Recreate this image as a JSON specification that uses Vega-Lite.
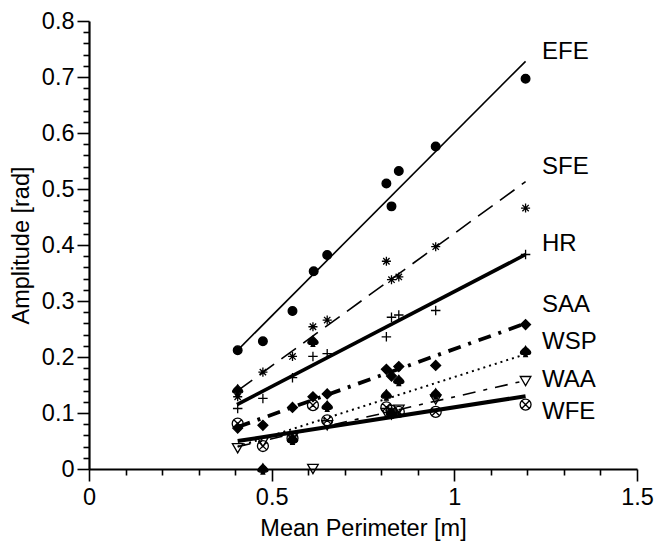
{
  "$schema": "https://vega.github.io/schema/vega-lite/v6.json",
  "width": 548,
  "height": 448,
  "autosize": "none",
  "padding": {"left": 89, "top": 21, "right": 20, "bottom": 75},
  "background": "white",
  "config": {
    "view": {"stroke": null},
    "font": "Liberation Sans",
    "axis": {
      "grid": false,
      "domainColor": "black",
      "domainWidth": 2.2,
      "tickColor": "black",
      "tickWidth": 1.6,
      "labelColor": "black",
      "titleColor": "black",
      "labelFont": "Liberation Sans",
      "titleFont": "Liberation Sans",
      "labelFontSize": 23.5,
      "titleFontSize": 23.5,
      "titleFontWeight": "normal",
      "labelFlush": false,
      "labelOverlap": false
    }
  },
  "datasets": {
    "pts": [
      {"series": "EFE", "x": 0.407, "y": 0.212}, {"series": "EFE", "x": 0.476, "y": 0.228}, {"series": "EFE", "x": 0.557, "y": 0.282}, {"series": "EFE", "x": 0.615, "y": 0.353}, {"series": "EFE", "x": 0.652, "y": 0.382}, {"series": "EFE", "x": 0.814, "y": 0.51}, {"series": "EFE", "x": 0.828, "y": 0.469}, {"series": "EFE", "x": 0.848, "y": 0.532}, {"series": "EFE", "x": 0.949, "y": 0.576}, {"series": "EFE", "x": 1.195, "y": 0.697},
      {"series": "SFE", "x": 0.407, "y": 0.129}, {"series": "SFE", "x": 0.476, "y": 0.173}, {"series": "SFE", "x": 0.557, "y": 0.201}, {"series": "SFE", "x": 0.613, "y": 0.254}, {"series": "SFE", "x": 0.652, "y": 0.266}, {"series": "SFE", "x": 0.814, "y": 0.371}, {"series": "SFE", "x": 0.828, "y": 0.338}, {"series": "SFE", "x": 0.848, "y": 0.343}, {"series": "SFE", "x": 0.949, "y": 0.397}, {"series": "SFE", "x": 1.195, "y": 0.466},
      {"series": "HR", "x": 0.407, "y": 0.108}, {"series": "HR", "x": 0.476, "y": 0.126}, {"series": "HR", "x": 0.557, "y": 0.163}, {"series": "HR", "x": 0.613, "y": 0.201}, {"series": "HR", "x": 0.652, "y": 0.206}, {"series": "HR", "x": 0.814, "y": 0.236}, {"series": "HR", "x": 0.828, "y": 0.271}, {"series": "HR", "x": 0.848, "y": 0.275}, {"series": "HR", "x": 0.949, "y": 0.283}, {"series": "HR", "x": 1.195, "y": 0.383},
      {"series": "SAA", "x": 0.407, "y": 0.073}, {"series": "SAA", "x": 0.476, "y": 0.078}, {"series": "SAA", "x": 0.557, "y": 0.11}, {"series": "SAA", "x": 0.613, "y": 0.129}, {"series": "SAA", "x": 0.652, "y": 0.134}, {"series": "SAA", "x": 0.814, "y": 0.178}, {"series": "SAA", "x": 0.828, "y": 0.166}, {"series": "SAA", "x": 0.848, "y": 0.183}, {"series": "SAA", "x": 0.949, "y": 0.185}, {"series": "SAA", "x": 1.195, "y": 0.258},
      {"series": "WSP", "x": 0.407, "y": 0.141}, {"series": "WSP", "x": 0.476, "y": 0.0}, {"series": "WSP", "x": 0.557, "y": 0.053}, {"series": "WSP", "x": 0.613, "y": 0.228}, {"series": "WSP", "x": 0.652, "y": 0.112}, {"series": "WSP", "x": 0.814, "y": 0.132}, {"series": "WSP", "x": 0.828, "y": 0.1}, {"series": "WSP", "x": 0.848, "y": 0.158}, {"series": "WSP", "x": 0.949, "y": 0.134}, {"series": "WSP", "x": 1.195, "y": 0.21},
      {"series": "WAA", "x": 0.407, "y": 0.037}, {"series": "WAA", "x": 0.476, "y": 0.048}, {"series": "WAA", "x": 0.557, "y": 0.056}, {"series": "WAA", "x": 0.613, "y": 0.0}, {"series": "WAA", "x": 0.652, "y": 0.078}, {"series": "WAA", "x": 0.814, "y": 0.1}, {"series": "WAA", "x": 0.828, "y": 0.097}, {"series": "WAA", "x": 0.848, "y": 0.106}, {"series": "WAA", "x": 0.949, "y": 0.124}, {"series": "WAA", "x": 1.195, "y": 0.157},
      {"series": "WFE", "x": 0.407, "y": 0.081}, {"series": "WFE", "x": 0.476, "y": 0.041}, {"series": "WFE", "x": 0.557, "y": 0.055}, {"series": "WFE", "x": 0.613, "y": 0.114}, {"series": "WFE", "x": 0.652, "y": 0.087}, {"series": "WFE", "x": 0.814, "y": 0.11}, {"series": "WFE", "x": 0.828, "y": 0.104}, {"series": "WFE", "x": 0.848, "y": 0.102}, {"series": "WFE", "x": 0.949, "y": 0.102}, {"series": "WFE", "x": 1.195, "y": 0.115}
    ],
    "fits": [
      {"series": "EFE", "x": 0.405, "y": 0.211}, {"series": "EFE", "x": 1.195, "y": 0.728},
      {"series": "SFE", "x": 0.407, "y": 0.14}, {"series": "SFE", "x": 1.195, "y": 0.513},
      {"series": "HR", "x": 0.405, "y": 0.115}, {"series": "HR", "x": 1.195, "y": 0.383},
      {"series": "SAA", "x": 0.407, "y": 0.075}, {"series": "SAA", "x": 1.195, "y": 0.26},
      {"series": "WSP", "x": 0.407, "y": 0.04}, {"series": "WSP", "x": 1.195, "y": 0.205},
      {"series": "WAA", "x": 0.407, "y": 0.04}, {"series": "WAA", "x": 1.195, "y": 0.158},
      {"series": "WFE", "x": 0.407, "y": 0.05}, {"series": "WFE", "x": 1.195, "y": 0.13}
    ],
    "labels": [
      {"series": "EFE", "x": 1.24, "y": 0.744},
      {"series": "SFE", "x": 1.24, "y": 0.539},
      {"series": "HR", "x": 1.24, "y": 0.402},
      {"series": "SAA", "x": 1.24, "y": 0.292},
      {"series": "WSP", "x": 1.24, "y": 0.227},
      {"series": "WAA", "x": 1.24, "y": 0.159},
      {"series": "WFE", "x": 1.24, "y": 0.102}
    ]
  },
  "encoding": {
    "x": {
      "field": "x", "type": "quantitative",
      "scale": {"domain": [0, 1.5], "nice": false, "zero": false},
      "axis": {
        "title": "Mean Perimeter [m]",
        "values": [0, 0.1, 0.2, 0.3, 0.4, 0.5, 0.6, 0.7, 0.8, 0.9, 1, 1.1, 1.2, 1.3, 1.4, 1.5],
        "labelExpr": "abs(datum.value*2-round(datum.value*2))<0.001 ? format(datum.value, '.1~f') : ''",
        "tickSize": {"condition": {"test": "abs(datum.value*2-round(datum.value*2))<0.001", "value": 12}, "value": 6},
        "labelPadding": 4,
        "titlePadding": 8
      }
    },
    "y": {
      "field": "y", "type": "quantitative",
      "scale": {"domain": [0, 0.8], "nice": false, "zero": false},
      "axis": {
        "title": "Amplitude [rad]",
        "values": [0, 0.02, 0.04, 0.06, 0.08, 0.1, 0.12, 0.14, 0.16, 0.18, 0.2, 0.22, 0.24, 0.26, 0.28, 0.3, 0.32, 0.34, 0.36, 0.38, 0.4, 0.42, 0.44, 0.46, 0.48, 0.5, 0.52, 0.54, 0.56, 0.58, 0.6, 0.62, 0.64, 0.66, 0.68, 0.7, 0.72, 0.74, 0.76, 0.78, 0.8],
        "labelExpr": "abs(datum.value*10-round(datum.value*10))<0.001 ? format(datum.value, '.1~f') : ''",
        "tickSize": {"condition": {"test": "abs(datum.value*10-round(datum.value*10))<0.001", "value": 12}, "value": 6},
        "labelPadding": 3,
        "titlePadding": 8
      }
    }
  },
  "layer": [
    {
      "data": {"name": "fits"},
      "transform": [{"filter": "datum.series == 'EFE'"}],
      "mark": {"type": "line", "color": "black", "strokeWidth": 1.6},
      "encoding": {}
    },
    {
      "data": {"name": "fits"},
      "transform": [{"filter": "datum.series == 'SFE'"}],
      "mark": {"type": "line", "color": "black", "strokeWidth": 1.6, "strokeDash": [18, 9], "strokeCap": "butt"},
      "encoding": {}
    },
    {
      "data": {"name": "fits"},
      "transform": [{"filter": "datum.series == 'HR'"}],
      "mark": {"type": "line", "color": "black", "strokeWidth": 3.6},
      "encoding": {}
    },
    {
      "data": {"name": "fits"},
      "transform": [{"filter": "datum.series == 'SAA'"}],
      "mark": {"type": "line", "color": "black", "strokeWidth": 3.8, "strokeDash": [13, 8, 3, 8], "strokeCap": "butt"},
      "encoding": {}
    },
    {
      "data": {"name": "fits"},
      "transform": [{"filter": "datum.series == 'WSP'"}],
      "mark": {"type": "line", "color": "black", "strokeWidth": 2, "strokeDash": [2, 4], "strokeCap": "butt"},
      "encoding": {}
    },
    {
      "data": {"name": "fits"},
      "transform": [{"filter": "datum.series == 'WAA'"}],
      "mark": {"type": "line", "color": "black", "strokeWidth": 1.6, "strokeDash": [13, 8, 4, 8], "strokeCap": "butt"},
      "encoding": {}
    },
    {
      "data": {"name": "fits"},
      "transform": [{"filter": "datum.series == 'WFE'"}],
      "mark": {"type": "line", "color": "black", "strokeWidth": 4},
      "encoding": {}
    },
    {
      "data": {"name": "pts"},
      "mark": {"type": "point", "stroke": "black", "strokeWidth": 1.3, "opacity": 1},
      "encoding": {
        "shape": {
          "field": "series", "type": "nominal", "legend": null,
          "scale": {"domain": ["EFE", "SFE", "HR", "SAA", "WSP", "WAA", "WFE"],
                    "range": ["circle",
                              "M-1,0L1,0M0,-1L0,1M-0.7,-0.7L0.7,0.7M-0.7,0.7L0.7,-0.7",
                              "M-1,0L1,0M0,-1L0,1",
                              "diamond",
                              "M0,-1C0.3,-0.5 1,-0.2 1,0.25C1,0.6 0.5,0.7 0.15,0.45L0.35,1L-0.35,1L-0.15,0.45C-0.5,0.7 -1,0.6 -1,0.25C-1,-0.2 -0.3,-0.5 0,-1Z",
                              "triangle-down",
                              "M1,0A1,1 0 1,1 -1,0A1,1 0 1,1 1,0M-0.7,-0.7L0.7,0.7M-0.7,0.7L0.7,-0.7"]}
        },
        "fill": {
          "field": "series", "type": "nominal", "legend": null,
          "scale": {"domain": ["EFE", "SFE", "HR", "SAA", "WSP", "WAA", "WFE"],
                    "range": ["black", "transparent", "transparent", "black", "black", "transparent", "transparent"]}
        },
        "size": {
          "field": "series", "type": "nominal", "legend": null,
          "scale": {"domain": ["EFE", "SFE", "HR", "SAA", "WSP", "WAA", "WFE"],
                    "range": [75, 120, 180, 140, 160, 150, 180]}
        }
      }
    },
    {
      "data": {"name": "labels"},
      "mark": {"type": "text", "align": "left", "baseline": "middle", "font": "Liberation Sans", "fontSize": 24, "color": "black"},
      "encoding": {
        "text": {"field": "series", "type": "nominal"}
      }
    }
  ]
}
